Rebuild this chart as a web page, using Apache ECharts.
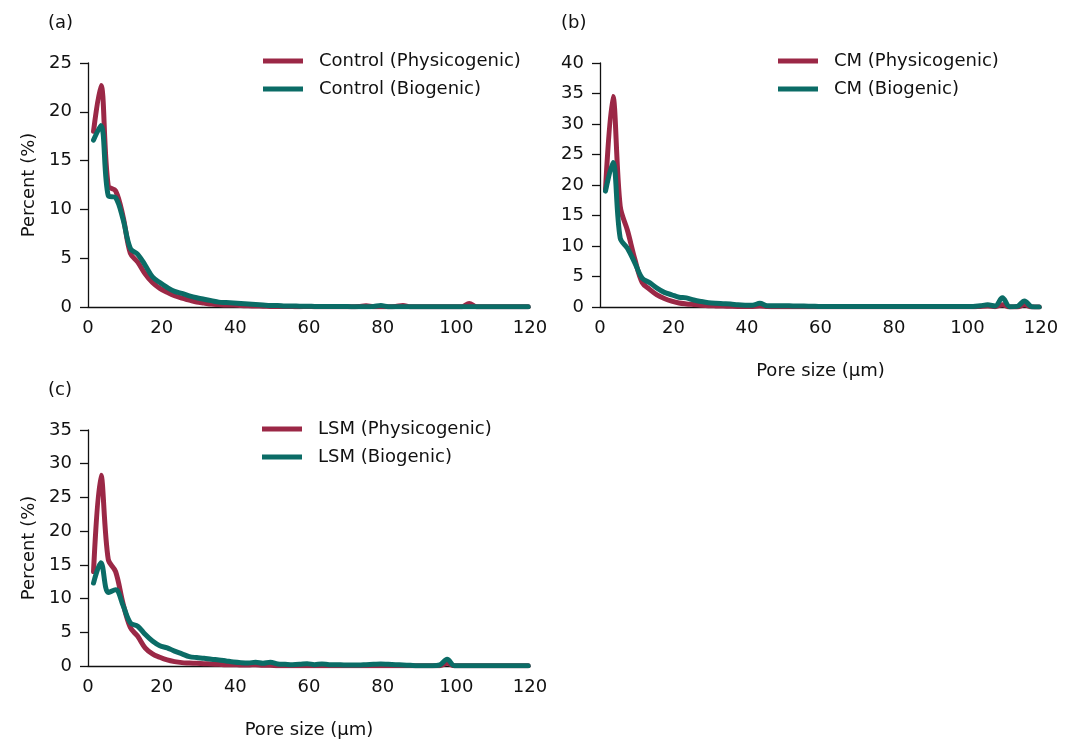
<!DOCTYPE html>
<html><head><meta charset="utf-8">
<script src="https://cdn.jsdelivr.net/npm/echarts@6/dist/echarts.min.js"></script>
<style>html,body{margin:0;padding:0;background:#fff}#c{width:1073px;height:740px}</style>
</head><body><div id="c"></div>
<script>
// Pore size bin centres (µm)
const poreSize = [1.5,3.5,5.5,7.5,9.5,11.5,13.5,15.5,17.5,19.5,21.5,23.5,25.5,27.5,29.5,31.5,33.5,35.5,37.5,39.5,
  41.5,43.5,45.5,47.5,49.5,51.5,53.5,55.5,57.5,59.5,61.5,63.5,65.5,67.5,69.5,71.5,73.5,75.5,77.5,79.5,
  81.5,83.5,85.5,87.5,89.5,91.5,93.5,95.5,97.5,99.5,101.5,103.5,105.5,107.5,109.5,111.5,113.5,115.5,117.5,119.5];

// Panel (a)
const controlPhys = [18.0,22.7,12.4,11.9,9.3,5.5,4.6,3.4,2.5,1.9,1.5,1.15,0.9,0.7,0.5,0.4,0.3,0.25,0.2,0.2,
  0.15,0.12,0.1,0.08,0.06,0.05,0.05,0.04,0.03,0.05,0.03,0.02,0.03,0.02,0.03,0.02,0.05,0.12,0.03,0.03,
  0.02,0.05,0.15,0.02,0.02,0.02,0.02,0.02,0.02,0.02,0.03,0.35,0.02,0.02,0.02,0.02,0.02,0.02,0.02,0.02];
const controlBio = [17.1,18.6,11.4,11.2,9.0,6.0,5.4,4.3,3.1,2.5,2.0,1.6,1.4,1.15,0.95,0.8,0.65,0.5,0.45,0.4,
  0.35,0.3,0.25,0.2,0.15,0.15,0.1,0.1,0.08,0.08,0.06,0.05,0.05,0.04,0.05,0.03,0.03,0.03,0.05,0.15,
  0.03,0.02,0.02,0.02,0.02,0.02,0.02,0.02,0.02,0.02,0.02,0.02,0.02,0.02,0.02,0.02,0.02,0.02,0.02,0.02];

// Panel (b)
const cmPhys = [19.3,34.5,16.5,12.5,7.8,4.0,2.9,2.0,1.4,0.95,0.65,0.5,0.4,0.3,0.22,0.18,0.15,0.12,0.1,0.1,
  0.1,0.15,0.08,0.05,0.05,0.05,0.05,0.05,0.05,0.05,0.05,0.05,0.05,0.05,0.05,0.05,0.05,0.05,0.05,0.05,
  0.05,0.05,0.05,0.05,0.05,0.05,0.05,0.05,0.05,0.05,0.05,0.1,0.15,0.05,0.35,0.02,0.02,0.35,0.02,0.02];
const cmBio = [19.0,23.7,11.3,9.6,7.2,4.7,4.0,3.1,2.4,2.0,1.6,1.5,1.15,0.9,0.7,0.6,0.55,0.5,0.35,0.3,
  0.3,0.6,0.2,0.2,0.2,0.2,0.15,0.15,0.12,0.1,0.08,0.08,0.08,0.08,0.08,0.08,0.08,0.08,0.08,0.08,
  0.08,0.08,0.08,0.08,0.08,0.08,0.08,0.08,0.08,0.08,0.08,0.2,0.35,0.15,1.5,0.05,0.1,1.0,0.05,0.02];

// Panel (c)
const lsmPhys = [14.0,28.3,15.8,14.0,9.3,5.7,4.4,2.7,1.8,1.3,0.9,0.65,0.5,0.45,0.4,0.35,0.3,0.25,0.2,0.2,
  0.15,0.15,0.2,0.1,0.1,0.05,0.05,0.05,0.05,0.05,0.05,0.05,0.05,0.05,0.05,0.05,0.05,0.05,0.05,0.05,
  0.05,0.05,0.05,0.05,0.05,0.05,0.05,0.05,0.4,0.03,0.03,0.03,0.03,0.03,0.03,0.03,0.03,0.03,0.03,0.03];
const lsmBio = [12.3,15.3,10.9,11.3,9.0,6.4,5.9,4.7,3.7,3.0,2.7,2.2,1.8,1.4,1.25,1.15,1.0,0.9,0.75,0.6,
  0.5,0.45,0.55,0.4,0.55,0.3,0.25,0.2,0.25,0.35,0.2,0.3,0.2,0.2,0.15,0.15,0.15,0.2,0.25,0.3,
  0.25,0.2,0.15,0.1,0.05,0.05,0.05,0.15,1.0,0.05,0.05,0.05,0.05,0.05,0.05,0.05,0.05,0.05,0.05,0.05];

const xTicks = [0,20,40,60,80,100,120];
const seriesNames = {
  a: ['Control (Physicogenic)', 'Control (Biogenic)'],
  b: ['CM (Physicogenic)', 'CM (Biogenic)'],
  c: ['LSM (Physicogenic)', 'LSM (Biogenic)']
};
const panelLabels = ['(a)', '(b)', '(c)'];
const yMax = [25, 40, 35];
const xName = 'Pore size (µm)';
const yName = 'Percent (%)';

const FONT = 'DejaVu Sans';
const FS = 18;
const RED = '#9b2846', GREEN = '#0b6c66';
const INK = '#111';

function pairs(v) { return poreSize.map((x, i) => [x, v[i]]); }

function xAxis(gi, withName) {
  return {
    type: 'value', gridIndex: gi, min: xTicks[0], max: xTicks[xTicks.length - 1], interval: 20,
    axisLine: { show: true, onZero: false, lineStyle: { color: INK, width: 1.3 } },
    axisTick: { show: false },
    splitLine: { show: false },
    axisLabel: { color: INK, fontSize: FS, fontFamily: FONT, margin: 12 },
    name: withName ? xName : '', nameLocation: 'middle', nameGap: 55,
    nameTextStyle: { color: INK, fontSize: FS, fontFamily: FONT }
  };
}
function yAxis(gi, max, withName) {
  return {
    type: 'value', gridIndex: gi, min: 0, max: max, interval: 5,
    axisLine: { show: true, lineStyle: { color: INK, width: 1.3 } },
    axisTick: { show: true, length: 8, lineStyle: { color: INK, width: 1.3 } },
    splitLine: { show: false },
    axisLabel: { color: INK, fontSize: FS, fontFamily: FONT, margin: 16 },
    name: withName ? yName : '', nameLocation: 'middle', nameGap: 50, nameRotate: 90,
    nameTextStyle: { color: INK, fontSize: FS, fontFamily: FONT }
  };
}
function lineSeries(name, data, color, idx) {
  return {
    type: 'line', name: name, xAxisIndex: idx, yAxisIndex: idx, data: pairs(data),
    smooth: 0.35, showSymbol: false, symbol: 'none',
    lineStyle: { color: color, width: 5, cap: 'round', join: 'round' },
    itemStyle: { color: color }, animation: false, z: 2
  };
}
function legend(names, left, top) {
  return {
    data: names, left: left, top: top, orient: 'vertical', icon: 'rect', padding: 0,
    itemWidth: 40, itemHeight: 5, itemGap: 6,
    textStyle: { color: INK, fontSize: FS, fontFamily: FONT, lineHeight: 22, padding: [0, 0, 0, 11] }
  };
}
function label(text, left, top) {
  return { text: text, left: left, top: top, padding: 0,
    textStyle: { color: INK, fontSize: FS, fontWeight: 'normal', fontFamily: FONT } };
}

const option = {
  backgroundColor: '#fff',
  animation: false,
  title: [label(panelLabels[0], 48, 14), label(panelLabels[1], 561, 14), label(panelLabels[2], 48, 381)],
  grid: [
    { left: 88, top: 63, width: 442, height: 244 },
    { left: 600, top: 63, width: 441, height: 244 },
    { left: 88, top: 430, width: 442, height: 238 }
  ],
  xAxis: [xAxis(0, false), xAxis(1, true), xAxis(2, true)],
  yAxis: [yAxis(0, yMax[0], true), yAxis(1, yMax[1], false), yAxis(2, yMax[2], true)],
  legend: [
    legend(seriesNames.a, 263, 50),
    legend(seriesNames.b, 778, 50),
    legend(seriesNames.c, 262, 418)
  ],
  series: [
    lineSeries(seriesNames.a[0], controlPhys, RED, 0),
    lineSeries(seriesNames.a[1], controlBio, GREEN, 0),
    lineSeries(seriesNames.b[0], cmPhys, RED, 1),
    lineSeries(seriesNames.b[1], cmBio, GREEN, 1),
    lineSeries(seriesNames.c[0], lsmPhys, RED, 2),
    lineSeries(seriesNames.c[1], lsmBio, GREEN, 2)
  ]
};
const chart = echarts.init(document.getElementById('c'), null, { renderer: 'canvas' });
chart.setOption(option);
</script>
</body></html>
